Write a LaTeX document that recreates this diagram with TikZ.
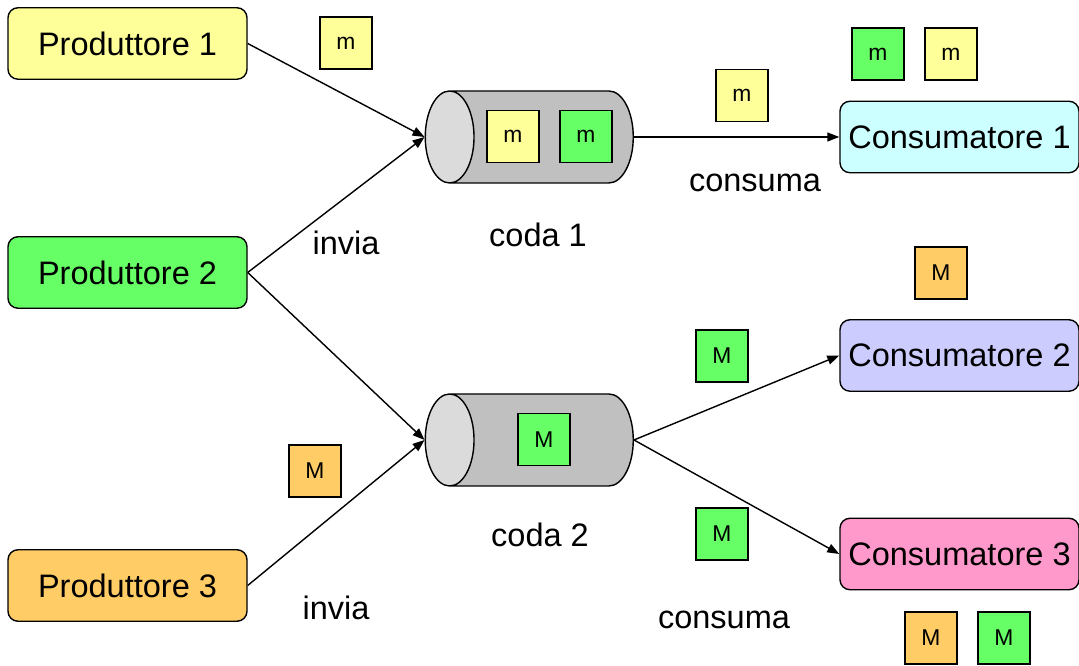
\documentclass[tikz,border=0pt]{standalone}
\usepackage{fontspec}
\setmainfont{Liberation Sans}
\usetikzlibrary{positioning,shapes.geometric,arrows.meta}

\definecolor{giallo}{HTML}{FFFF99}
\definecolor{verde}{HTML}{66FF66}
\definecolor{arancio}{HTML}{FFCC66}
\definecolor{azzurro}{HTML}{CCFFFF}
\definecolor{lilla}{HTML}{CCCCFF}
\definecolor{rosa}{HTML}{FF99CC}
\definecolor{grigio}{HTML}{C0C0C0}
\definecolor{grigiochiaro}{HTML}{DBDBDB}

\begin{document}
\begin{tikzpicture}
    [every node/.style={inner sep=2pt, font=\fontsize{18.5}{22}\selectfont},
     attore/.style={draw, rounded corners=0.2cm, line width=0.8pt, minimum width=4.78cm, minimum height=1.43cm},
     msg/.style={draw, line width=0.8pt, minimum size=1.04cm, font=\fontsize{13}{15}\selectfont},
     coda/.style={cylinder, shape border rotate=180, aspect=0.53, draw, line width=0.8pt,
       cylinder uses custom fill, cylinder body fill=grigio, cylinder end fill=grigiochiaro,
       inner xsep=0pt, inner ysep=0.92cm, minimum height=4.16cm},
     freccia/.style={-{Triangle[length=0.24cm,width=0.18cm]}, line width=0.8pt}]
  \useasboundingbox (0,0) rectangle (21.58,13.32);

  % produttori e consumatori
  \node[attore, fill=giallo] (p1) at (2.55,12.45) {Produttore 1};
  \node[attore, fill=verde] (p2) at (2.55,7.87) {Produttore 2};
  \node[attore, fill=arancio] (p3) at (2.55,1.61) {Produttore 3};
  \node[attore, fill=azzurro] (c1) at (19.19,10.58) {Consumatore 1};
  \node[attore, fill=lilla] (c2) at (19.19,6.21) {Consumatore 2};
  \node[attore, fill=rosa] (c3) at (19.19,2.24) {Consumatore 3};

  % code
  \node[coda] (q1) at (11.08,10.58) {};
  \node[coda] (q2) at (11.08,4.52) {};

  % messaggi
  \node[msg, fill=giallo] (m1) at (6.92,12.46) {m};
  \node[msg, fill=giallo] (m2) at (10.26,10.59) {m};
  \node[msg, fill=verde] (m3) at (11.72,10.59) {m};
  \node[msg, fill=giallo] (m4) at (14.84,11.41) {m};
  \node[msg, fill=verde] (m5) at (17.56,12.24) {m};
  \node[msg, fill=giallo] (m6) at (19.02,12.24) {m};
  \node[msg, fill=arancio] (M1) at (18.82,7.86) {M};
  \node[msg, fill=verde] (M2) at (14.44,6.20) {M};
  \node[msg, fill=verde] (M3) at (10.88,4.53) {M};
  \node[msg, fill=arancio] (M4) at (6.30,3.90) {M};
  \node[msg, fill=verde] (M5) at (14.44,2.64) {M};
  \node[msg, fill=arancio] (M6) at (18.62,0.56) {M};
  \node[msg, fill=verde] (M7) at (20.08,0.56) {M};

  % etichette
  \node (l1) at (6.92,8.46) {invia};
  \node (l2) at (10.76,8.62) {coda 1};
  \node (l3) at (15.10,9.66) {consuma};
  \node (l4) at (10.80,2.62) {coda 2};
  \node (l5) at (6.72,1.16) {invia};
  \node (l6) at (14.48,0.92) {consuma};

  \foreach \from/\to in {p1/q1, p2/q1, p2/q2, p3/q2, q1/c1, q2/c2, q2/c3}
    \draw[freccia] (\from.east) -- (\to.west);
\end{tikzpicture}
\end{document}
